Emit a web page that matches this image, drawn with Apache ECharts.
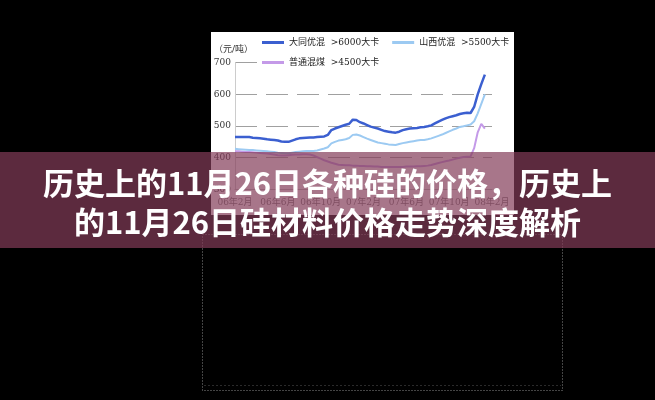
<!DOCTYPE html>
<html>
<head>
<meta charset="utf-8">
<script src="https://cdn.jsdelivr.net/npm/echarts@6/dist/echarts.min.js"></script>
<style>
html,body{margin:0;padding:0;background:#000;}
#chart{width:655px;height:400px;}
</style>
</head>
<body>
<div id="chart"></div>
<script>
// ---- data ----
const months = ['06年2月','06年3月','06年4月','06年5月','06年6月','06年7月','06年8月','06年9月','06年10月','06年11月','06年12月','07年1月','07年2月','07年3月','07年4月','07年5月','07年6月','07年7月','07年8月','07年9月','07年10月','07年11月','07年12月','08年1月','08年2月'];
const dekads = ['', '中旬', '下旬'];
const seriesNames = ['大同优混  >6000大卡', '山西优混  >5500大卡', '普通混煤  >4500大卡'];
const yTicks = [300, 400, 500, 600, 700];
const unitLabel = '（元/吨）';
const titleLines = ['历史上的11月26日各种硅的价格，历史上', '的11月26日硅材料价格走势深度解析'];

const datong = [465,465,465,465,465,463,462,461,460,458,
  457,456,454,451,450,450,454,458,461,462,
  463,464,464,465,466,467,472,487,492,496,
  500,504,507,520,519,512,508,503,498,495,
  492,488,484,482,480,479,482,487,490,492,
  493,494,496,497,499,502,508,514,519,524,
  528,531,534,538,540,542,541,560,600,632,
  662];
const shanxi = [428,427,426,425,424,424,423,422,421,420,
  419,418,416,415,414,414,416,418,419,420,
  421,421,421,423,426,429,433,445,450,454,
  456,458,462,472,473,470,465,460,456,452,
  448,446,444,442,441,440,443,446,448,450,
  452,454,456,456,458,461,465,469,473,478,
  483,488,492,497,499,502,505,515,540,570,
  600];
const putong = [420,420,419,418,418,417,416,415,414,413,
  412,410,408,407,407,408,409,410,410,411,
  411,410,407,402,397,392,388,384,381,378,
  377,376,376,375,375,374,374,373,373,372,
  372,371,371,371,371,371,371,371,372,372,
  372,373,373,374,375,377,380,383,386,389,
  391,394,397,400,402,403,404,430,480,507,
  492];

// categories: three per month, axis spans 06年2月 .. 08年2月
const categories = [];
months.forEach(m => dekads.forEach(d => categories.push(m + d)));
categories.length = 73;

const FF = "'DejaVu Serif', 'Noto Sans CJK SC', serif";
const chart = echarts.init(document.getElementById('chart'));
chart.setOption({
  backgroundColor: '#000',
  animation: false,
  grid: {left: 235, right: 163, top: 62.6, bottom: 210.6, containLabel: false},
  xAxis: {
    type: 'category', data: categories, boundaryGap: false,
    axisLine: {lineStyle: {color: '#bbb'}},
    axisTick: {show: false},
    axisLabel: {interval: 11, color: '#777', fontSize: 9, margin: 9, fontFamily: FF},
    splitLine: {show: false}
  },
  yAxis: {
    type: 'value', min: yTicks[0], max: yTicks[yTicks.length - 1], interval: 100,
    axisLine: {show: true, lineStyle: {color: '#ccc'}},
    axisTick: {show: false},
    axisLabel: {color: '#333', fontSize: 9, margin: 4, fontFamily: FF},
    splitLine: {lineStyle: {type: [22, 9], color: '#a0a0a0', width: 1}}
  },
  legend: [
    {
      data: [seriesNames[0], seriesNames[1]],
      left: 259, top: 35, padding: [3, 2, 24, 3], itemGap: 13,
      itemWidth: 22, itemHeight: 3, icon: 'rect',
      backgroundColor: '#fff',
      textStyle: {fontSize: 9, color: '#222', fontFamily: FF}
    },
    {
      data: [seriesNames[2]],
      left: 259, top: 55, padding: [3, 3, 3, 3], z: 5,
      itemWidth: 22, itemHeight: 3, icon: 'rect',
      textStyle: {fontSize: 9, color: '#222', fontFamily: FF}
    }
  ],
  series: [
    {name: seriesNames[0], type: 'line', data: datong, showSymbol: false,
     color: '#3b5fd0', lineStyle: {width: 2.5, color: '#3b5fd0'}},
    {name: seriesNames[1], type: 'line', data: shanxi, showSymbol: false,
     color: '#9ccaf2', lineStyle: {width: 2, color: '#9ccaf2'}},
    {name: seriesNames[2], type: 'line', data: putong, showSymbol: false,
     color: '#c49ae8', lineStyle: {width: 2, color: '#c49ae8'}}
  ],
  graphic: [
    {type: 'rect', z: -10, shape: {x: 211, y: 32, width: 303, height: 183}, style: {fill: '#fff'}},
    {type: 'text', z: 1, x: 214, y: 50,
     style: {text: unitLabel, fill: '#333', font: "9px " + FF, textVerticalAlign: 'middle', verticalAlign: 'middle'}},
    {type: 'rect', z: 1, shape: {x: 202.5, y: 234.5, width: 360, height: 156},
     style: {fill: 'transparent', stroke: '#888', lineWidth: 1, lineDash: [1, 2]}},
    {type: 'line', z: 1, shape: {x1: 204, y1: 385.5, x2: 561, y2: 385.5},
     style: {stroke: '#2a2a2a', lineWidth: 1, lineDash: [2, 2]}},
    {type: 'rect', z: 100, shape: {x: 0, y: 152, width: 655, height: 96},
     style: {fill: 'rgba(131,60,89,0.7)'}},
    {type: 'text', z: 101, x: 327.5, y: 183,
     style: {text: titleLines[0], fill: '#fff', font: "bold 31px 'Noto Sans CJK SC'",
             textAlign: 'center', align: 'center', textVerticalAlign: 'middle', verticalAlign: 'middle',
             shadowColor: 'rgba(0,0,0,0.35)', shadowBlur: 3}},
    {type: 'text', z: 101, x: 327.5, y: 222,
     style: {text: titleLines[1], fill: '#fff', font: "bold 31px 'Noto Sans CJK SC'",
             textAlign: 'center', align: 'center', textVerticalAlign: 'middle', verticalAlign: 'middle',
             shadowColor: 'rgba(0,0,0,0.35)', shadowBlur: 3}}
  ]
});
</script>
</body>
</html>
